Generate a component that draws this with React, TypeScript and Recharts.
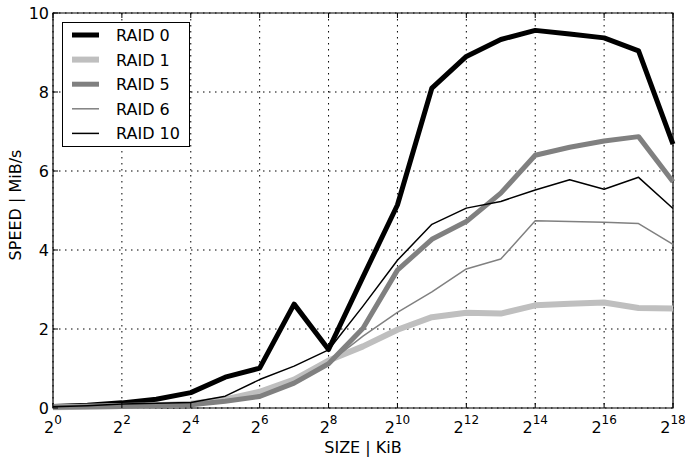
import {
  LineChart,
  Line,
  XAxis,
  YAxis,
  CartesianGrid,
  ReferenceArea,
} from "recharts";

const exps = [0, 1, 2, 3, 4, 5, 6, 7, 8, 9, 10, 11, 12, 13, 14, 15, 16, 17, 18];
const raid0 = [0.04, 0.07, 0.13, 0.22, 0.39, 0.78, 1.01, 2.63, 1.48, 3.32, 5.14, 8.1, 8.9, 9.33, 9.56, 9.47, 9.37, 9.04, 6.68];
const raid1 = [0.02, 0.03, 0.05, 0.07, 0.11, 0.22, 0.41, 0.72, 1.2, 1.56, 1.98, 2.3, 2.41, 2.39, 2.6, 2.64, 2.67, 2.53, 2.52];
const raid5 = [0.02, 0.03, 0.04, 0.06, 0.08, 0.17, 0.29, 0.63, 1.12, 2.02, 3.49, 4.27, 4.72, 5.44, 6.4, 6.6, 6.76, 6.87, 5.73];
const raid6 = [0.02, 0.03, 0.04, 0.06, 0.08, 0.18, 0.32, 0.66, 1.14, 1.82, 2.42, 2.94, 3.52, 3.77, 4.74, 4.72, 4.7, 4.67, 4.14];
const raid10 = [0.03, 0.06, 0.1, 0.12, 0.14, 0.3, 0.72, 1.06, 1.47, 2.58, 3.74, 4.65, 5.06, 5.23, 5.52, 5.78, 5.54, 5.84, 5.05];

const xTicks = [0, 2, 4, 6, 8, 10, 12, 14, 16, 18];
const yTicks = [0, 2, 4, 6, 8, 10];

const series = [
  { key: "raid0", name: "RAID 0", color: "#000000", width: 5 },
  { key: "raid1", name: "RAID 1", color: "#bfbfbf", width: 6 },
  { key: "raid5", name: "RAID 5", color: "#808080", width: 5 },
  { key: "raid6", name: "RAID 6", color: "#808080", width: 1.5 },
  { key: "raid10", name: "RAID 10", color: "#000000", width: 1.5 },
];

const data = exps.map((e, i) => ({
  exp: e,
  raid0: raid0[i],
  raid1: raid1[i],
  raid5: raid5[i],
  raid6: raid6[i],
  raid10: raid10[i],
}));

const FONT = "DejaVu Sans";

function BottomTick({ x, y, payload }: any) {
  return (
    <g>
      <line x1={x} x2={x} y1={y} y2={y - 5} stroke="#000" />
      <text x={x} y={y + 25} textAnchor="middle" fontSize={16} fontFamily={FONT} fill="#000">
        2<tspan dy={-9} fontSize={12}>{payload.value}</tspan>
      </text>
    </g>
  );
}

function TopTick({ x, y }: any) {
  return <line x1={x} x2={x} y1={y} y2={y + 5} stroke="#000" />;
}

function LeftTick({ x, y, payload }: any) {
  return (
    <g>
      <line x1={x} x2={x + 5} y1={y} y2={y} stroke="#000" />
      <text x={x - 4} y={y + 6} textAnchor="end" fontSize={16} fontFamily={FONT} fill="#000">
        {payload.value}
      </text>
    </g>
  );
}

function RightTick({ x, y }: any) {
  return <line x1={x} x2={x - 5} y1={y} y2={y} stroke="#000" />;
}

export default function App() {
  return (
    <div style={{ position: "absolute", left: 0, top: 0, width: 685, height: 457, background: "#fff" }}>
      <LineChart width={685} height={457} data={data} margin={{ top: 0, right: 0, bottom: 0, left: 0 }}>
        <CartesianGrid stroke="#000" strokeDasharray="1.5 4.5" />
        <XAxis
          dataKey="exp"
          type="number"
          domain={[0, 18]}
          ticks={xTicks}
          height={49}
          tickSize={0}
          tickMargin={0}
          axisLine={false}
          tickLine={false}
          tick={<BottomTick />}
          interval={0}
        />
        <XAxis
          xAxisId="top"
          orientation="top"
          dataKey="exp"
          type="number"
          domain={[0, 18]}
          ticks={xTicks}
          height={13}
          tickSize={0}
          tickMargin={0}
          axisLine={false}
          tickLine={false}
          tick={<TopTick />}
          interval={0}
        />
        <YAxis
          type="number"
          domain={[0, 10]}
          ticks={yTicks}
          width={53}
          tickSize={0}
          tickMargin={0}
          axisLine={false}
          tickLine={false}
          tick={<LeftTick />}
          interval={0}
        />
        <YAxis
          yAxisId="right"
          orientation="right"
          type="number"
          domain={[0, 10]}
          ticks={yTicks}
          width={12}
          tickSize={0}
          tickMargin={0}
          axisLine={false}
          tickLine={false}
          tick={<RightTick />}
          interval={0}
        />
        {series.map((s) => (
          <Line
            key={s.key}
            type="linear"
            dataKey={s.key}
            name={s.name}
            stroke={s.color}
            strokeWidth={s.width}
            strokeLinejoin="round"
            dot={false}
            activeDot={false}
            isAnimationActive={false}
          />
        ))}
        <ReferenceArea x1={0} x2={18} y1={0} y2={10} fill="none" fillOpacity={0} stroke="#000" strokeWidth={1.2} />
      </LineChart>

      <svg
        width={128}
        height={125}
        style={{ position: "absolute", left: 62, top: 22 }}
      >
        <rect x={0.5} y={0.5} width={127} height={124} fill="#fff" stroke="#000" strokeWidth={1} />
        {series.map((s, i) => {
          const cy = 13 + i * 24.6;
          return (
            <g key={s.key}>
              <line x1={10} x2={37} y1={cy} y2={cy} stroke={s.color} strokeWidth={s.width} />
              <text x={54} y={cy + 6} fontSize={16} fontFamily={FONT} fill="#000">
                {s.name}
              </text>
            </g>
          );
        })}
      </svg>

      <svg width={685} height={457} style={{ position: "absolute", left: 0, top: 0, pointerEvents: "none" }}>
        <text x={363} y={453} textAnchor="middle" fontSize={16} fontFamily={FONT} fill="#000">
          SIZE | KiB
        </text>
        <text
          x={21}
          y={205}
          transform="rotate(-90 21 205)"
          textAnchor="middle"
          fontSize={16}
          fontFamily={FONT}
          fill="#000"
        >
          SPEED | MiB/s
        </text>
      </svg>
    </div>
  );
}
